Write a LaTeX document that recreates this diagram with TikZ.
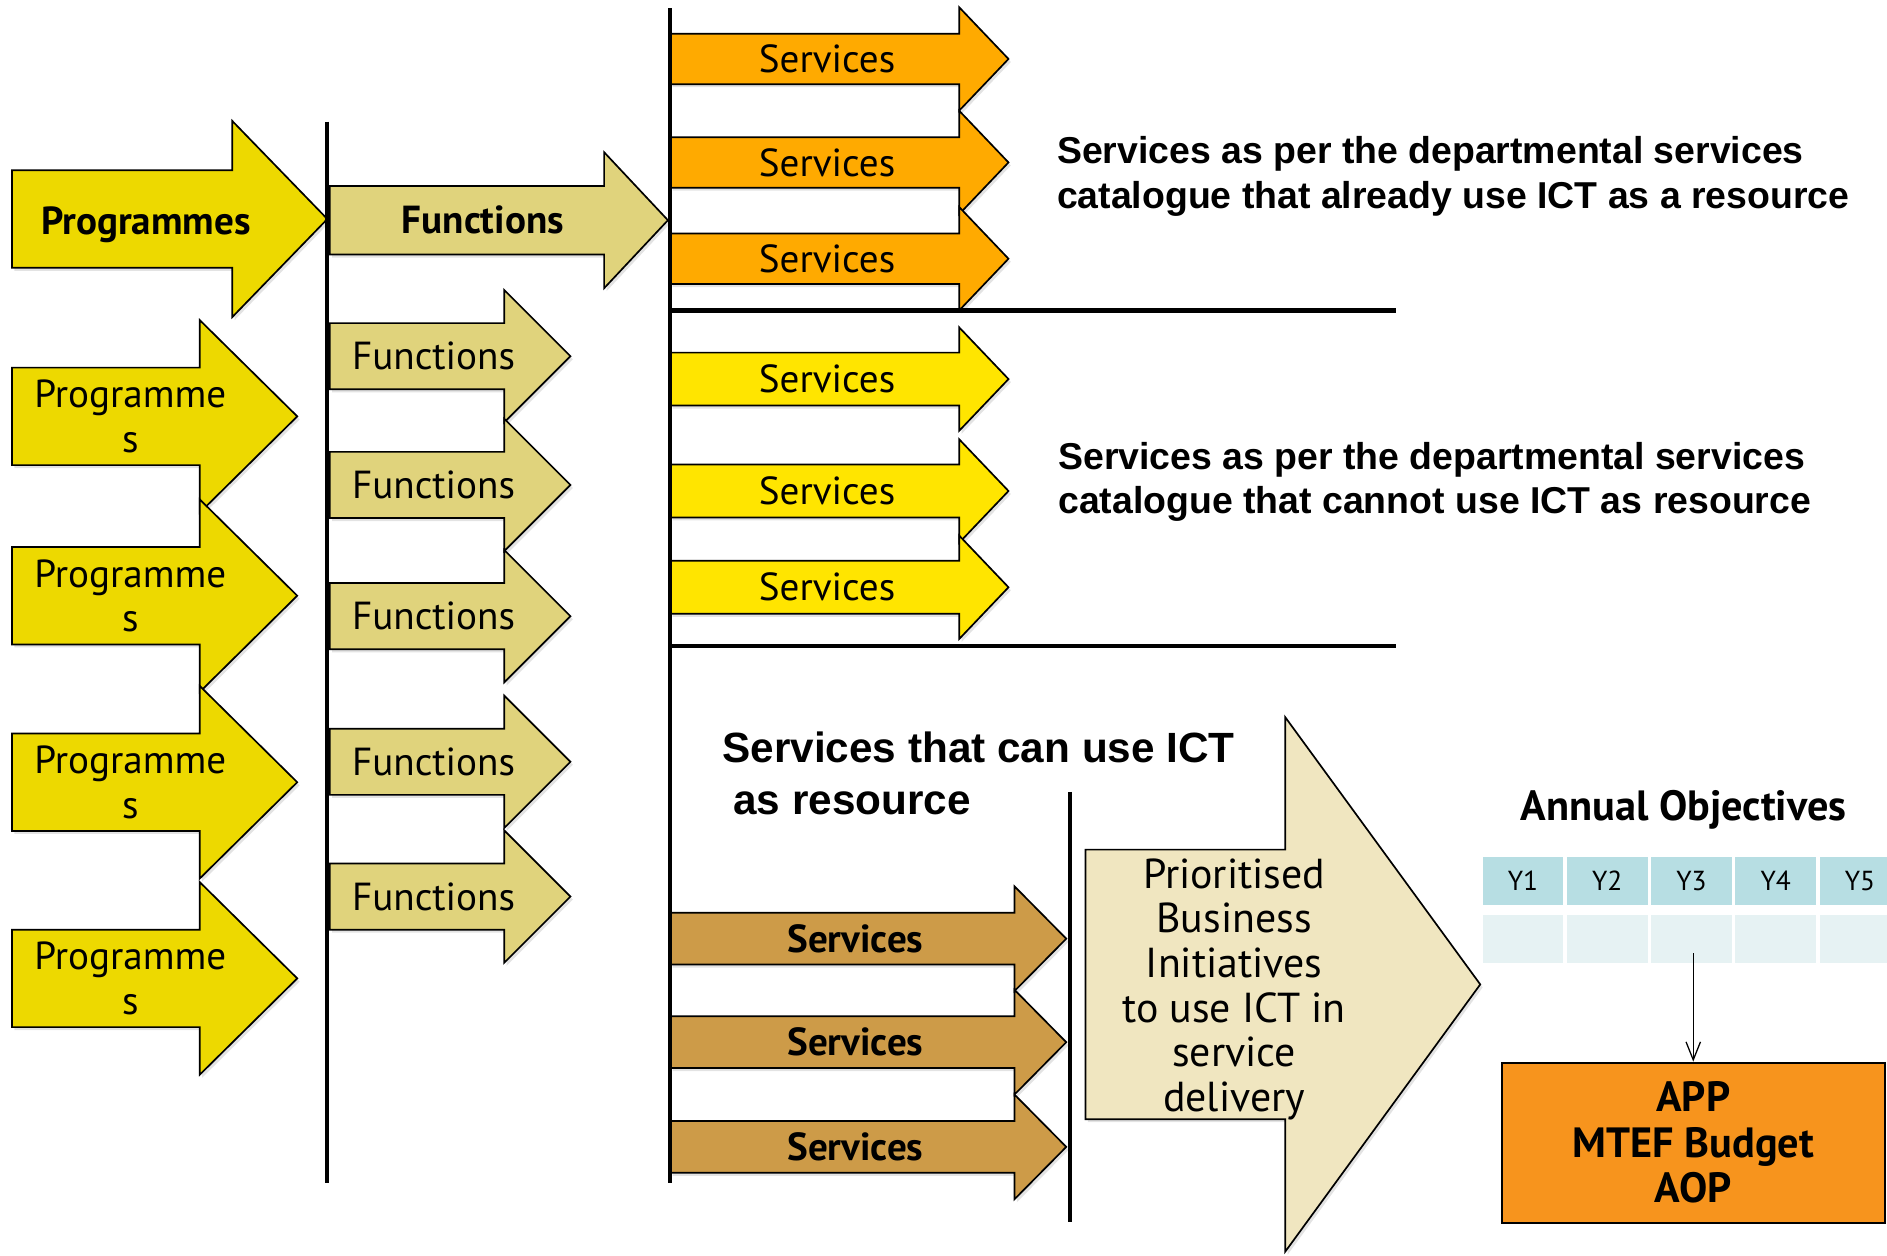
\documentclass[tikz,border=0pt]{standalone}
\usepackage{fontspec}
\setmainfont{PT Sans}
\newfontfamily\arialfont{Liberation Sans}
\usetikzlibrary{arrows.meta,shadows}

\definecolor{progyellow}{RGB}{237,217,0}
\definecolor{funckhaki}{RGB}{224,211,124}
\definecolor{servorange}{RGB}{255,170,0}
\definecolor{servyellow}{RGB}{255,229,0}
\definecolor{servbrown}{RGB}{205,155,72}
\definecolor{priocream}{RGB}{240,230,192}
\definecolor{apporange}{RGB}{247,148,29}
\definecolor{headblue}{RGB}{183,222,227}
\definecolor{bodyblue}{RGB}{230,242,243}

\tikzset{
  blk/.style={draw=black, line width=0.8pt, line join=miter,
    drop shadow={shadow xshift=0.04cm, shadow yshift=-0.05cm, opacity=0.22}},
  lbl/.style={font=\fontsize{18.5}{21}\selectfont, align=center, inner sep=0pt},
  prog/.style={fill=progyellow},
  bigprog/.style={fill=progyellow},
  bigprog label/.style={font=\bfseries\fontsize{18.5}{21}\selectfont, yshift=-0.1cm},
  func/.style={fill=funckhaki},
  bigfunc/.style={fill=funckhaki},
  bigfunc label/.style={font=\bfseries\fontsize{18.5}{21}\selectfont},
  servorg/.style={fill=servorange},
  servyel/.style={fill=servyellow},
  servbrn/.style={fill=servbrown},
  servbrn label/.style={font=\bfseries\fontsize{18.5}{21}\selectfont},
  prio/.style={fill=priocream},
  prio label/.style={font=\fontsize{19.8}{21.1}\selectfont, yshift=-0.08cm},
  divider/.style={line width=2pt},
  bigtext/.style={font=\arialfont\bfseries\fontsize{17.7}{21}\selectfont, align=left, anchor=west, inner sep=0pt},
  cellhead/.style={fill=headblue, minimum width=1.34cm, minimum height=0.8cm, inner sep=0pt, font=\fontsize{13}{15}\selectfont},
  cellbody/.style={fill=bodyblue, minimum width=1.34cm, minimum height=0.8cm, inner sep=0pt},
  appbox/.style={draw=black, fill=apporange, line width=1pt, minimum width=6.36cm, minimum height=2.66cm, align=center, font=\bfseries\fontsize{20}{21.5}\selectfont},
}

% kind, name, left, head base, tip, middle, half body, half head, text
\newcommand{\blockarrow}[9]{%
  \draw[blk, #1] ({#3},{#6-#7}) -- ({#4},{#6-#7}) -- ({#4},{#6-#8}) -- ({#5},{#6})
    -- ({#4},{#6+#8}) -- ({#4},{#6+#7}) -- ({#3},{#6+#7}) -- cycle;
  \node[lbl, #1 label/.try] (#2) at ({(2*#3+#4+#5)/4},{#6}) {#9};}

\begin{document}
\begin{tikzpicture}[x=0.02cm, y=-0.02cm]
\useasboundingbox (0,0) rectangle (1568,1043);

\blockarrow{bigprog}{prog}{10}{193}{272}{182}{40.5}{81.5}{Programmes}
\blockarrow{prog}{prog1}{10}{166}{247}{346}{40.5}{80}{Programme\\s}
\blockarrow{prog}{prog2}{10}{166}{247}{495}{40.5}{80}{Programme\\s}
\blockarrow{prog}{prog3}{10}{166}{247}{650}{40.5}{80}{Programme\\s}
\blockarrow{prog}{prog4}{10}{166}{247}{813}{40.5}{80}{Programme\\s}

\blockarrow{bigfunc}{func}{274}{502}{555}{183}{28.5}{56.5}{Functions}
\foreach \m [count=\i] in {296,403,512,633,745}
  \blockarrow{func}{func\i}{274}{419}{474}{\m}{27.5}{55}{Functions};

\foreach \m [count=\i] in {49,135,215}
  \blockarrow{servorg}{ict\i}{557}{797}{838}{\m}{21}{43}{Services};
\foreach \m [count=\i] in {315,408,488}
  \blockarrow{servyel}{noict\i}{557}{797}{838}{\m}{22}{43}{Services};
\foreach \m [count=\i] in {780,866,953}
  \blockarrow{servbrn}{canict\i}{557}{843}{886}{\m}{21.5}{43.5}{Services};

\blockarrow{prio}{prioinit}{902}{1068}{1230}{818}{112}{222}{Prioritised\\Business\\Initiatives\\to use ICT in\\service\\delivery}

\draw[divider] (272,101) -- (272,983);
\draw[divider] (557,7) -- (557,983);
\draw[divider] (889,658) -- (889,1015);
\draw[divider] (557,258) -- (1160,258);
\draw[divider] (557,537) -- (1160,537);

\node[bigtext] (ictnote) at (878,146.5) {Services as per the departmental services\\catalogue that already use ICT as a resource};
\node[bigtext] (noictnote) at (879,400.5) {Services as per the departmental services\\catalogue that cannot use ICT as resource};
\node[bigtext, font=\arialfont\bfseries\fontsize{20}{24.4}\selectfont] (canictnote) at (600,642.5) {Services that can use ICT\\\hspace*{0.18cm}as resource};

\node[font=\bfseries\fontsize{20}{23}\selectfont] (annual) at (1399,673) {Annual Objectives};
\foreach \i in {1,...,5}{
  \node[cellhead] (h\i) at ({1265.5+70*(\i-1)},732) {Y\i};
  \node[cellbody] (b\i) at ({1265.5+70*(\i-1)},780) {};
}

\node[appbox] (app) at (1407,949.5) {APP\\MTEF Budget\\AOP};
\coordinate (objtop) at (app.north |- b3.center);
\draw[line width=0.6pt, -{Straight Barb[length=0.3cm, width=0.24cm]}] ([yshift=-0.24cm]objtop) -- (app.north);
\end{tikzpicture}
\end{document}
